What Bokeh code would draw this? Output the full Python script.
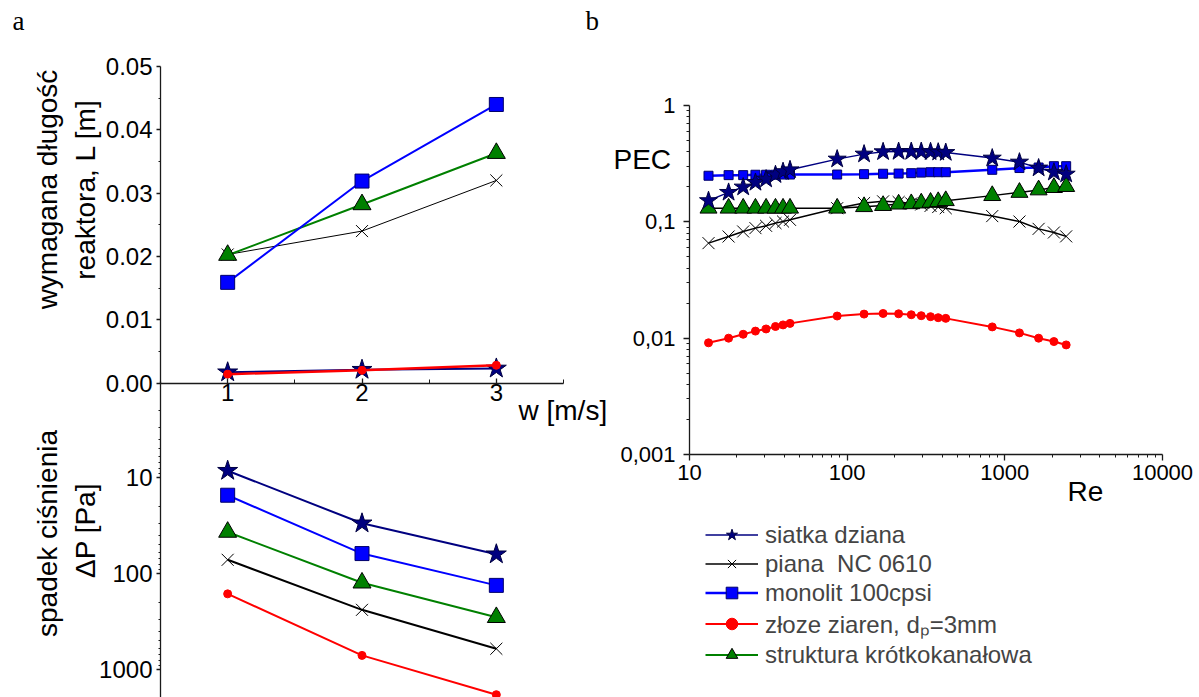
from math import pi
import numpy as np
from bokeh.plotting import figure
from bokeh.models import (Range1d, LogScale, LinearAxis, LogAxis, FixedTicker,
                          Label, Legend, LegendItem)
from bokeh.layouts import row
from bokeh.embed import file_html
from bokeh.resources import INLINE

# ---------------- data : panel a ----------------
w = [1, 2, 3]
L_siatka = [0.0017, 0.0021, 0.0023]
L_piana = [0.0203, 0.0240, 0.0320]
L_monolit = [0.0159, 0.0319, 0.0440]
L_zloze = [0.0014, 0.0020, 0.0028]
L_struktura = [0.0202, 0.0282, 0.0363]

dP_siatka = [8.5, 30, 63]
dP_piana = [72, 239, 608]
dP_monolit = [15.3, 62, 133]
dP_zloze = [163, 713, 1830]
dP_struktura = [37, 125, 286]

# ---------------- data : panel b ----------------
Re = [13.2, 17.7, 21.9, 26.2, 30.6, 35.1, 39.2, 43.4, 86.4, 128, 169, 212,
      255, 295, 338, 378, 422, 832, 1238, 1638, 2048, 2449]
PEC_siatka = [0.152, 0.179, 0.199, 0.218, 0.233, 0.254, 0.270, 0.280, 0.346,
              0.382, 0.400, 0.402, 0.402, 0.402, 0.400, 0.397, 0.394, 0.353,
              0.326, 0.290, 0.267, 0.257]
PEC_piana = [0.0656, 0.0748, 0.0826, 0.0883, 0.0924, 0.0975, 0.1006, 0.104,
             0.131, 0.145, 0.150, 0.148, 0.144, 0.141, 0.137, 0.134, 0.131,
             0.112, 0.1006, 0.087, 0.081, 0.075]
PEC_monolit = [0.249, 0.252, 0.252, 0.254, 0.254, 0.254, 0.255, 0.255, 0.255,
               0.257, 0.259, 0.260, 0.262, 0.265, 0.267, 0.267, 0.267, 0.280,
               0.290, 0.293, 0.301, 0.301]
PEC_zloze = [0.00912, 0.0100, 0.0108, 0.0115, 0.0120, 0.0126, 0.0130, 0.0134,
             0.0155, 0.0161, 0.0163, 0.0162, 0.0159, 0.0156, 0.0153, 0.0150,
             0.0148, 0.0125, 0.0111, 0.0100, 0.00935, 0.00875]
PEC_struktura = [0.131, 0.131, 0.131, 0.131, 0.131, 0.131, 0.131, 0.131, 0.131,
                 0.135, 0.138, 0.142, 0.143, 0.145, 0.147, 0.149, 0.152, 0.168,
                 0.179, 0.188, 0.197, 0.201]

# ---------------- ticks / labels ----------------
w_ticks = [1, 2, 3]
w_labels = ["1", "2", "3"]
L_ticks = [0.0, 0.01, 0.02, 0.03, 0.04, 0.05]
L_labels = ["0.00", "0.01", "0.02", "0.03", "0.04", "0.05"]
dP_ticks = [10, 100, 1000]
dP_labels = ["10", "100", "1000"]
Re_ticks = [10, 100, 1000, 10000]
Re_labels = ["10", "100", "1000", "10000"]
PEC_ticks = [0.001, 0.01, 0.1, 1]
PEC_labels = ["0,001", "0,01", "0,1", "1"]

series_names = ["siatka dziana", "piana  NC 0610", "monolit 100cpsi",
                "złoze ziaren, dₚ=3mm", "struktura krótkokanałowa"]

FONT = "Liberation Sans"
NAVY, BLUE, GREEN, RED, BLACK = "#000080", "#0000ff", "#008000", "#ff0000", "#000000"
AXC = "#1a1a1a"
H = 697

# ================= panel a (page x 0..610) =================
A_W = 610
A_L, A_R = 160, 563          # x = 0.5 and x = 3.5
A_T, ZERO_PX = 66, 382.5     # L = 0.05 and L = 0
ya_per_px = 0.05 / (ZERO_PX - A_T)


def ax(px):
    return 0.5 + (px - A_L) / (A_R - A_L) * 3.0


def ay(py):
    return 0.05 - (py - A_T) * ya_per_px


def aly(py):
    return 10 ** (1 + (py - 477) / 96.0)


pa = figure(width=A_W, height=H, x_range=Range1d(ax(0), ax(A_W)),
            y_range=Range1d(ay(H), ay(0)), output_backend="svg",
            toolbar_location=None, x_axis_location=None, y_axis_location=None,
            min_border=0)
pa.outline_line_color = None
pa.xgrid.visible = False
pa.ygrid.visible = False
pa.extra_y_ranges = {"dp": Range1d(aly(H), aly(0))}
pa.extra_y_scales = {"dp": LogScale()}


def style_axis(a, size):
    a.axis_line_color = AXC
    a.axis_line_width = 1.3
    a.major_tick_line_color = AXC
    a.minor_tick_line_color = AXC
    a.major_tick_line_width = 1.3
    a.major_label_text_font = FONT
    a.major_label_text_font_size = size
    a.major_label_text_color = BLACK


xa = LinearAxis(fixed_location=0, bounds=(0.5, 3.5),
                ticker=FixedTicker(ticks=w_ticks, minor_ticks=[1.5, 2.5, 3.5]),
                major_label_overrides=dict(zip(w_ticks, w_labels)))
style_axis(xa, "24px")
xa.major_tick_in, xa.major_tick_out = 5, 0
xa.minor_tick_in, xa.minor_tick_out = 4, 0
xa.major_label_standoff = 1
pa.add_layout(xa, "below")

yaL = LinearAxis(fixed_location=0.5, bounds=(0, 0.05),
                 ticker=FixedTicker(ticks=L_ticks,
                                    minor_ticks=[0.005, 0.015, 0.025, 0.035, 0.045]),
                 major_label_overrides=dict(zip(L_ticks, L_labels)))
style_axis(yaL, "24px")
yaL.major_tick_in, yaL.major_tick_out = 0, 4
yaL.minor_tick_in, yaL.minor_tick_out = 0, 2
yaL.major_label_standoff = 4
pa.add_layout(yaL, "left")

dp_minor = [m * 10 ** k for k in (0, 1, 2) for m in range(2, 10)]
yaP = LogAxis(y_range_name="dp", fixed_location=0.5, bounds=(1.0, aly(H)),
              ticker=FixedTicker(ticks=dP_ticks, minor_ticks=dp_minor),
              major_label_overrides=dict(zip(dP_ticks, dP_labels)))
style_axis(yaP, "24px")
yaP.major_tick_in, yaP.major_tick_out = 0, 4
yaP.minor_tick_in, yaP.minor_tick_out = 0, 2
yaP.major_label_standoff = 4
pa.add_layout(yaP, "left")

# top: required length
pa.line(w, L_piana, color=BLACK, line_width=1)
pa.scatter(w, L_piana, marker="x", size=17, line_color=BLACK, line_width=1)
pa.line(w, L_struktura, color=GREEN, line_width=2)
pa.scatter(w, L_struktura, marker="triangle", size=18, fill_color=GREEN, line_color=BLACK)
pa.line(w, L_monolit, color=BLUE, line_width=2)
pa.scatter(w, L_monolit, marker="square", size=14, fill_color=BLUE, line_color="#00006a")
pa.line(w, L_siatka, color=NAVY, line_width=2)
pa.scatter(w, L_siatka, marker="star", size=21, fill_color=NAVY, line_color="#000040")
pa.line(w, L_zloze, color=RED, line_width=2.5)
pa.scatter(w, L_zloze, marker="circle", size=8, fill_color=RED, line_color=RED)

# bottom: pressure drop (log, reversed)
pa.line(w, dP_zloze, color=RED, line_width=2, y_range_name="dp")
pa.scatter(w, dP_zloze, marker="circle", size=8, fill_color=RED, line_color=RED, y_range_name="dp")
pa.line(w, dP_piana, color=BLACK, line_width=2, y_range_name="dp")
pa.scatter(w, dP_piana, marker="x", size=17, line_color=BLACK, line_width=1, y_range_name="dp")
pa.line(w, dP_struktura, color=GREEN, line_width=2, y_range_name="dp")
pa.scatter(w, dP_struktura, marker="triangle", size=18, fill_color=GREEN, line_color=BLACK, y_range_name="dp")
pa.line(w, dP_monolit, color=BLUE, line_width=2, y_range_name="dp")
pa.scatter(w, dP_monolit, marker="square", size=14, fill_color=BLUE, line_color="#00006a", y_range_name="dp")
pa.line(w, dP_siatka, color=NAVY, line_width=2, y_range_name="dp")
pa.scatter(w, dP_siatka, marker="star", size=21, fill_color=NAVY, line_color="#000040", y_range_name="dp")


def lab(fig, x, y, text, size="28px", angle=0.0, align="left", font=FONT):
    fig.add_layout(Label(x=x, y=y, text=text, angle=angle, text_align=align,
                         text_baseline="alphabetic", text_font=font,
                         text_font_size=size, text_color=BLACK))


lab(pa, ax(47), ay(189), "wymagana długość", angle=pi / 2, align="center")
lab(pa, ax(85), ay(189), "reaktora, L [m]", angle=pi / 2, align="center")
lab(pa, ax(47), ay(533), "spadek ciśnienia", angle=pi / 2, align="center")
lab(pa, ax(85), ay(530), "ΔP [Pa]", angle=pi / 2, align="center")
lab(pa, ax(518), ay(410), "w [m/s]")
lab(pa, ax(12), ay(20), "a", size="27px", font="Liberation Serif")
lab(pa, ax(585), ay(20), "b", size="27px", font="Liberation Serif")

# ================= panel b (page x 610..1199) =================
B_X0 = A_W
B_W = 1199 - A_W
B_L, B_R, B_T, B_B = 689, 1162, 105, 454   # Re 10..10000, PEC 1..0.001


def bx(px):
    return 10 ** (1 + (px - B_L) / (B_R - B_L) * 3.0)


def by(py):
    return 10 ** (0 - (py - B_T) / (B_B - B_T) * 3.0)


pb = figure(width=B_W, height=H, x_axis_type="log", y_axis_type="log",
            x_range=Range1d(bx(B_X0), bx(1199)), y_range=Range1d(by(H), by(0)),
            output_backend="svg", toolbar_location=None,
            x_axis_location=None, y_axis_location=None, min_border=0)
pb.outline_line_color = None
pb.xgrid.visible = False
pb.ygrid.visible = False

log_minor_x = [m * 10 ** k for k in (1, 2, 3) for m in range(2, 10)]
log_minor_y = [m * 10.0 ** k for k in (-3, -2, -1) for m in range(2, 10)]
xb = LogAxis(fixed_location=0.001, bounds=(10, 10000),
             ticker=FixedTicker(ticks=Re_ticks, minor_ticks=log_minor_x),
             major_label_overrides=dict(zip(Re_ticks, Re_labels)))
style_axis(xb, "22px")
xb.major_tick_in, xb.major_tick_out = 0, 6
xb.minor_tick_in, xb.minor_tick_out = 0, 3
xb.major_label_standoff = 4
pb.add_layout(xb, "below")
yb = LogAxis(fixed_location=10, bounds=(0.001, 1),
             ticker=FixedTicker(ticks=PEC_ticks, minor_ticks=log_minor_y),
             major_label_overrides=dict(zip(PEC_ticks, PEC_labels)))
style_axis(yb, "22px")
yb.major_tick_in, yb.major_tick_out = 0, 6
yb.minor_tick_in, yb.minor_tick_out = 0, 3
yb.major_label_standoff = 8
pb.add_layout(yb, "left")

r_zl = pb.line(Re, PEC_zloze, color=RED, line_width=2)
m_zl = pb.scatter(Re, PEC_zloze, marker="circle", size=8, fill_color=RED, line_color=RED)
r_pi = pb.line(Re, PEC_piana, color=BLACK, line_width=1.5)
m_pi = pb.scatter(Re, PEC_piana, marker="x", size=17, line_color=BLACK, line_width=1)
r_st = pb.line(Re, PEC_struktura, color=BLACK, line_width=1.5)
m_st = pb.scatter(Re, PEC_struktura, marker="triangle", size=17, fill_color=GREEN, line_color=BLACK)
r_mo = pb.line(Re, PEC_monolit, color=BLUE, line_width=2.5)
m_mo = pb.scatter(Re, PEC_monolit, marker="square", size=9, fill_color=BLUE, line_color="#00006a")
r_si = pb.line(Re, PEC_siatka, color=NAVY, line_width=1.5)
m_si = pb.scatter(Re, PEC_siatka, marker="star", size=19, fill_color=NAVY, line_color="#000040")
# legend-only swatch (green line) for the short-channel structure
r_st_leg = pb.line(np.array([np.nan]), np.array([np.nan]), color=GREEN, line_width=2)

legend = Legend(items=[
    LegendItem(label=series_names[0], renderers=[r_si, m_si]),
    LegendItem(label=series_names[1], renderers=[r_pi, m_pi]),
    LegendItem(label=series_names[2], renderers=[r_mo, m_mo]),
    LegendItem(label=series_names[3], renderers=[r_zl, m_zl]),
    LegendItem(label=series_names[4], renderers=[r_st_leg, m_st]),
], location=(705 - B_X0, 28))
legend.glyph_width = 53
legend.glyph_height = 29
legend.label_height = 29
legend.spacing = 0
legend.padding = 0
legend.margin = 0
legend.label_standoff = 7
legend.label_text_font = FONT
legend.label_text_font_size = "24px"
legend.border_line_color = None
legend.background_fill_alpha = 0
pb.add_layout(legend)

lab(pb, bx(613), by(159), "PEC")
lab(pb, bx(1067), by(491), "Re")

layout = row(pa, pb)
open("out.html", "w").write(file_html(layout, INLINE))
